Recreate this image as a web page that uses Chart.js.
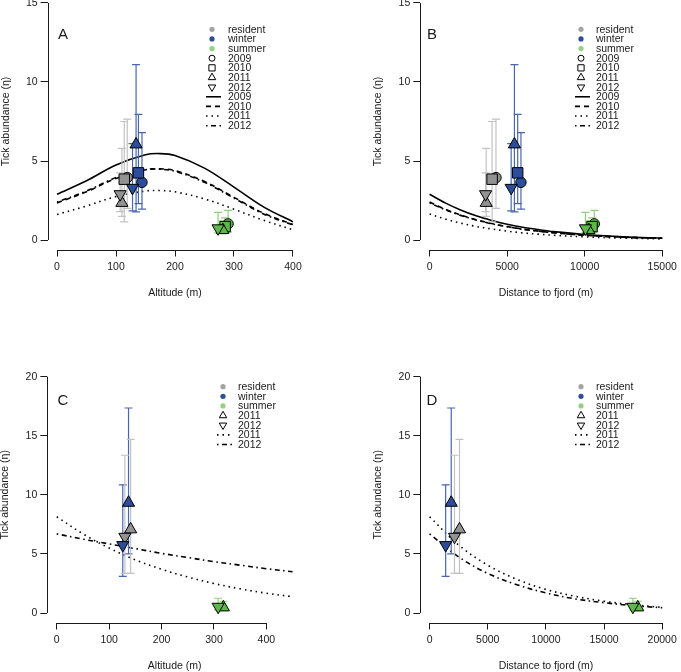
<!DOCTYPE html>
<html>
<head>
<meta charset="utf-8">
<script src="https://cdn.jsdelivr.net/npm/chart.js@4.4.1/dist/chart.umd.min.js"></script>
<style>
  html, body { margin: 0; padding: 0; background: #fff; overflow: hidden; }
  body { width: 681px; height: 672px; position: relative; }
  canvas { position: absolute; left: 0; top: -20px; }
</style>
</head>
<body>
<canvas id="panelA" width="681" height="692"></canvas>
<canvas id="panelB" width="681" height="692"></canvas>
<canvas id="panelC" width="681" height="692"></canvas>
<canvas id="panelD" width="681" height="692"></canvas>
<script>
// ---- observations, panels A & B (resident / winter / summer x 2009-2012) ----
const groupsAB = ['resident', 'resident', 'resident', 'resident',
                  'winter', 'winter', 'winter', 'winter',
                  'summer', 'summer', 'summer', 'summer'];
const yearsAB = [2009, 2010, 2011, 2012, 2009, 2010, 2011, 2012, 2009, 2010, 2011, 2012];
const altitudeAB = [119, 114, 110, 107, 144, 138, 134, 128, 290, 285, 281, 273];
const distanceAB = [4280, 4030, 3650, 3610, 5890, 5680, 5470, 5260, 10620, 10475, 10265, 10050];
const abundanceAB = [3.95, 3.85, 2.35, 2.9, 3.65, 4.25, 6.05, 3.3, 1.02, 0.85, 0.63, 0.74];
const lowerAB = [2.0, 1.15, 1.5, 1.8, 1.95, 2.3, 1.78, 1.85, 0.5, 0.45, 0.4, 0.45];
const upperAB = [7.65, 7.5, 5.8, 4.25, 6.8, 7.95, 11.1, 6.1, 1.88, 1.4, 1.2, 1.75];

// ---- observations, panels C & D (2011-2012) ----
const groupsCD = ['resident', 'resident', 'winter', 'winter', 'summer', 'summer'];
const yearsCD = [2011, 2012, 2011, 2012, 2011, 2012];
const altitudeCD = [141, 130, 137, 126, 318, 308];
const distanceCD = [2570, 2140, 1860, 1380, 17900, 17480];
const abundanceCD = [7.08, 6.45, 9.33, 5.75, 0.48, 0.53];
const lowerCD = [3.36, 3.36, 5.0, 3.1, 0.2, 0.25];
const upperCD = [14.7, 13.35, 17.35, 10.85, 1.0, 1.25];

// ---- fitted curves ----
const altGridA = [0, 50, 100, 150, 175, 200, 250, 300, 350, 400];
const fitA2009 = [2.9, 3.75, 4.75, 5.4, 5.47, 5.35, 4.55, 3.35, 2.1, 1.15];
const fitA2010 = [2.35, 3.05, 3.9, 4.45, 4.5, 4.4, 3.7, 2.7, 1.7, 0.98];
const fitA2011 = [1.62, 2.15, 2.75, 3.1, 3.13, 3.05, 2.6, 1.95, 1.25, 0.65];
const fitA2012 = [2.4, 3.1, 3.95, 4.45, 4.48, 4.35, 3.65, 2.65, 1.65, 0.95];

const distGridB = [0, 1000, 2000, 3000, 4000, 5000, 6000, 7000, 8000, 10000, 12500, 15000];
const fitB2009 = [2.9, 2.35, 1.9, 1.53, 1.24, 1.0, 0.81, 0.66, 0.53, 0.35, 0.2, 0.12];
const fitB2010 = [2.4, 1.95, 1.58, 1.28, 1.04, 0.85, 0.69, 0.56, 0.46, 0.3, 0.18, 0.11];
const fitB2011 = [1.65, 1.33, 1.07, 0.86, 0.7, 0.56, 0.45, 0.37, 0.3, 0.2, 0.12, 0.07];
const fitB2012 = [2.35, 1.92, 1.56, 1.27, 1.03, 0.84, 0.68, 0.56, 0.46, 0.3, 0.18, 0.11];

const altGridC = [0, 50, 100, 150, 200, 250, 300, 350, 400, 450];
const fitC2011 = [8.15, 6.7, 5.5, 4.5, 3.7, 3.05, 2.5, 2.05, 1.68, 1.38];
const fitC2012 = [6.7, 6.25, 5.85, 5.45, 5.05, 4.7, 4.35, 4.05, 3.75, 3.5];

const distGridD = [0, 2500, 5000, 7500, 10000, 12500, 15000, 17500, 20000];
const fitD2011 = [8.15, 5.75, 4.05, 2.85, 2.0, 1.42, 1.0, 0.7, 0.48];
const fitD2012 = [6.7, 4.75, 3.35, 2.4, 1.7, 1.2, 0.88, 0.62, 0.45];

// ---- axis ticks ----
const xTicksA = [0, 100, 200, 300, 400];
const xTicksB = [0, 5000, 10000, 15000];
const xTicksC = [0, 100, 200, 300, 400];
const xTicksD = [0, 5000, 10000, 15000, 20000];
const yTicksAB = [0, 5, 10, 15];
const yTicksCD = [0, 5, 10, 15, 20];

// ---- styling ----
const FAMILY = '"Liberation Sans", Arial, Helvetica, sans-serif';
const FS = 10.5;
const SHIFT = 20;            // canvases sit 20px above the page top
const INK = '#1a1a1a';
const fillCol = { resident: '#929292', winter: '#2c4d9c', summer: '#5db84a' };
const barCol = { resident: '#c2c2c2', winter: '#4a66ad', summer: '#8fd07c' };
const dotCol = { resident: '#a3a3a3', winter: '#2c4d9c', summer: '#92d283' };
const yearStyle = {
  2009: { style: 'circle', rot: 0, r: 5.2 },
  2010: { style: 'rect', rot: 0, r: 7.4 },
  2011: { style: 'triangle', rot: 0, r: 7 },
  2012: { style: 'triangle', rot: 180, r: 7 },
};
const lineDash = { 2009: [], 2010: [5, 4], 2011: [1.5, 4], 2012: [1.5, 3.5, 5, 3.5] };

function curve(xs, ys, year) {
  return {
    type: 'line', order: 3,
    data: xs.map((x, i) => ({ x: x, y: ys[i] })),
    borderColor: '#000', borderWidth: 1.6, borderDash: lineDash[year],
    pointRadius: 0, tension: 0.35, fill: false,
  };
}

function errorBars(xs, lo, hi, groups) {
  return xs.map((x, i) => ({
    type: 'line', order: 2,
    data: [{ x: x, y: lo[i] }, { x: x, y: hi[i] }],
    borderColor: barCol[groups[i]], borderWidth: 1.2,
    pointStyle: 'line', pointRadius: 4,
    pointBorderColor: barCol[groups[i]], pointBorderWidth: 1.2,
  }));
}

function markers(xs, ys, groups, years) {
  return {
    type: 'line', order: 1, showLine: false,
    data: xs.map((x, i) => ({ x: x, y: ys[i] })),
    pointStyle: years.map(y => yearStyle[y].style),
    pointRotation: years.map(y => yearStyle[y].rot),
    pointRadius: years.map(y => yearStyle[y].r),
    pointBackgroundColor: groups.map(g => fillCol[g]),
    pointBorderColor: '#000', pointBorderWidth: 1,
  };
}

// legend, panel letter and R-style axis lines
const rDecor = {
  id: 'rDecor',
  afterDraw(chart, args, o) {
    const ctx = chart.ctx;
    ctx.save();
    // axis lines spanning first..last tick
    const xs = chart.scales.x, ys = chart.scales.y;
    const ca = chart.chartArea;
    ctx.strokeStyle = INK; ctx.lineWidth = 1; ctx.setLineDash([]);
    ctx.beginPath();
    const xb = Math.round(ca.bottom) + 0.5;
    ctx.moveTo(xs.getPixelForValue(xs.ticks[0].value), xb);
    ctx.lineTo(xs.getPixelForValue(xs.ticks[xs.ticks.length - 1].value), xb);
    const yl = Math.round(ca.left) + 0.5;
    ctx.moveTo(yl, ys.getPixelForValue(ys.ticks[0].value));
    ctx.lineTo(yl, ys.getPixelForValue(ys.ticks[ys.ticks.length - 1].value));
    ctx.stroke();

    // panel letter
    ctx.fillStyle = INK;
    ctx.font = '15px ' + FAMILY;
    ctx.textAlign = 'center'; ctx.textBaseline = 'middle';
    ctx.fillText(o.letter, o.letterX, o.letterY + SHIFT);

    // legend
    ctx.font = FS + 'px ' + FAMILY;
    ctx.textAlign = 'left';
    o.items.forEach((it, i) => {
      const y = o.y + i * o.step + SHIFT;
      const x = o.x;
      ctx.setLineDash([]);
      ctx.strokeStyle = '#000'; ctx.lineWidth = 1;
      if (it.dot) {
        ctx.fillStyle = dotCol[it.dot];
        ctx.beginPath(); ctx.arc(x, y, 2.6, 0, Math.PI * 2); ctx.fill();
      } else if (it.year && !it.line) {
        const ys2 = yearStyle[it.year];
        ctx.fillStyle = 'rgba(0,0,0,0)';
        Chart.helpers.drawPoint(ctx, {
          pointStyle: ys2.style, rotation: ys2.rot,
          radius: ys2.style === 'circle' ? 3 : (ys2.style === 'rect' ? 4.4 : 4.3),
          borderWidth: 1,
        }, x, y);
      } else if (it.line) {
        ctx.lineWidth = 1.6;
        ctx.setLineDash(lineDash[it.year]);
        ctx.beginPath(); ctx.moveTo(x - 6, y); ctx.lineTo(x + 9, y); ctx.stroke();
        ctx.setLineDash([]);
      }
      ctx.fillStyle = INK;
      ctx.fillText(it.label, o.textX, y + 0.5);
    });
    ctx.restore();
  }
};

function buildPanel(id, p) {
  const tickFont = { family: FAMILY, size: FS };
  return new Chart(document.getElementById(id), {
    type: 'line',
    data: { datasets: p.datasets },
    plugins: [rDecor],
    options: {
      responsive: false, animation: false, devicePixelRatio: 1,
      layout: { autoPadding: false, padding: p.padding },
      plugins: { legend: { display: false }, tooltip: { enabled: false }, rDecor: p.legend },
      scales: {
        x: {
          type: 'linear', min: p.xMin, max: p.xMax,
          afterBuildTicks: s => { s.ticks = p.xTicks.map(v => ({ value: v })); },
          afterFit: s => { s.height = 48.75; },
          grid: { display: true, drawOnChartArea: false, drawTicks: true, tickLength: 7, color: INK, lineWidth: 1 },
          border: { display: false },
          ticks: { font: tickFont, color: INK, padding: 4, maxRotation: 0, autoSkip: false, callback: v => String(v) },
          title: { display: true, text: p.xTitle, font: { family: FAMILY, size: FS, lineHeight: 1 }, color: INK, padding: 0 },
        },
        y: {
          type: 'linear', min: p.yMin, max: p.yMax,
          afterBuildTicks: s => { s.ticks = p.yTicks.map(v => ({ value: v })); },
          afterFit: s => { s.width = 47; },
          grid: { display: true, drawOnChartArea: false, drawTicks: true, tickLength: 7, color: INK, lineWidth: 1 },
          border: { display: false },
          ticks: { font: tickFont, color: INK, padding: 3, autoSkip: false, callback: v => String(v) },
          title: { display: true, text: 'Tick abundance (η)', font: { family: FAMILY, size: FS, lineHeight: 1 }, color: INK, padding: 0 },
        },
      },
    },
  });
}

const legendAB = [
  { dot: 'resident', label: 'resident' },
  { dot: 'winter', label: 'winter' },
  { dot: 'summer', label: 'summer' },
  { year: 2009, label: '2009' },
  { year: 2010, label: '2010' },
  { year: 2011, label: '2011' },
  { year: 2012, label: '2012' },
  { year: 2009, line: true, label: '2009' },
  { year: 2010, line: true, label: '2010' },
  { year: 2011, line: true, label: '2011' },
  { year: 2012, line: true, label: '2012' },
];
const legendCD = [
  { dot: 'resident', label: 'resident' },
  { dot: 'winter', label: 'winter' },
  { dot: 'summer', label: 'summer' },
  { year: 2011, label: '2011' },
  { year: 2012, label: '2012' },
  { year: 2011, line: true, label: '2011' },
  { year: 2012, line: true, label: '2012' },
];

// Panel A: altitude, 2009-2012
buildPanel('panelA', {
  padding: { left: 0.6, right: 378.6, top: 13.5, bottom: 373.75 },
  xMin: -16, xMax: 416, yMin: -0.6, yMax: 15.6, xTicks: xTicksA, yTicks: yTicksAB,
  xTitle: 'Altitude (m)',
  legend: { letter: 'A', letterX: 63, letterY: 35, x: 212, textX: 228, y: 29.3, step: 9.64, items: legendAB },
  datasets: [
    curve(altGridA, fitA2009, 2009), curve(altGridA, fitA2010, 2010),
    curve(altGridA, fitA2011, 2011), curve(altGridA, fitA2012, 2012),
    ...errorBars(altitudeAB, lowerAB, upperAB, groupsAB),
    markers(altitudeAB, abundanceAB, groupsAB, yearsAB),
  ],
});

// Panel B: distance to fjord, 2009-2012
buildPanel('panelB', {
  padding: { left: 373.3, right: 5.1, top: 13.5, bottom: 373.75 },
  xMin: -600, xMax: 15600, yMin: -0.6, yMax: 15.6, xTicks: xTicksB, yTicks: yTicksAB,
  xTitle: 'Distance to fjord (m)',
  legend: { letter: 'B', letterX: 432, letterY: 35, x: 581, textX: 596, y: 29.3, step: 9.64, items: legendAB },
  datasets: [
    curve(distGridB, fitB2009, 2009), curve(distGridB, fitB2010, 2010),
    curve(distGridB, fitB2011, 2011), curve(distGridB, fitB2012, 2012),
    ...errorBars(distanceAB, lowerAB, upperAB, groupsAB),
    markers(distanceAB, abundanceAB, groupsAB, yearsAB),
  ],
});

// Panel C: altitude, 2011-2012
buildPanel('panelC', {
  padding: { left: 0.3, right: 379, top: 387.2, bottom: 0.75 },
  xMin: -18, xMax: 468, yMin: -0.8, yMax: 20.8, xTicks: xTicksC, yTicks: yTicksCD,
  xTitle: 'Altitude (m)',
  legend: { letter: 'C', letterX: 63, letterY: 401, x: 223, textX: 238, y: 386.7, step: 9.63, items: legendCD },
  datasets: [
    curve(altGridC, fitC2011, 2011), curve(altGridC, fitC2012, 2012),
    ...errorBars(altitudeCD, lowerCD, upperCD, groupsCD),
    markers(altitudeCD, abundanceCD, groupsCD, yearsCD),
  ],
});

// Panel D: distance to fjord, 2011-2012
buildPanel('panelD', {
  padding: { left: 373.3, right: 5.8, top: 387.2, bottom: 0.75 },
  xMin: -800, xMax: 20800, yMin: -0.8, yMax: 20.8, xTicks: xTicksD, yTicks: yTicksCD,
  xTitle: 'Distance to fjord (m)',
  legend: { letter: 'D', letterX: 432, letterY: 401, x: 581, textX: 596, y: 386.7, step: 9.63, items: legendCD },
  datasets: [
    curve(distGridD, fitD2011, 2011), curve(distGridD, fitD2012, 2012),
    ...errorBars(distanceCD, lowerCD, upperCD, groupsCD),
    markers(distanceCD, abundanceCD, groupsCD, yearsCD),
  ],
});
</script>
</body>
</html>
